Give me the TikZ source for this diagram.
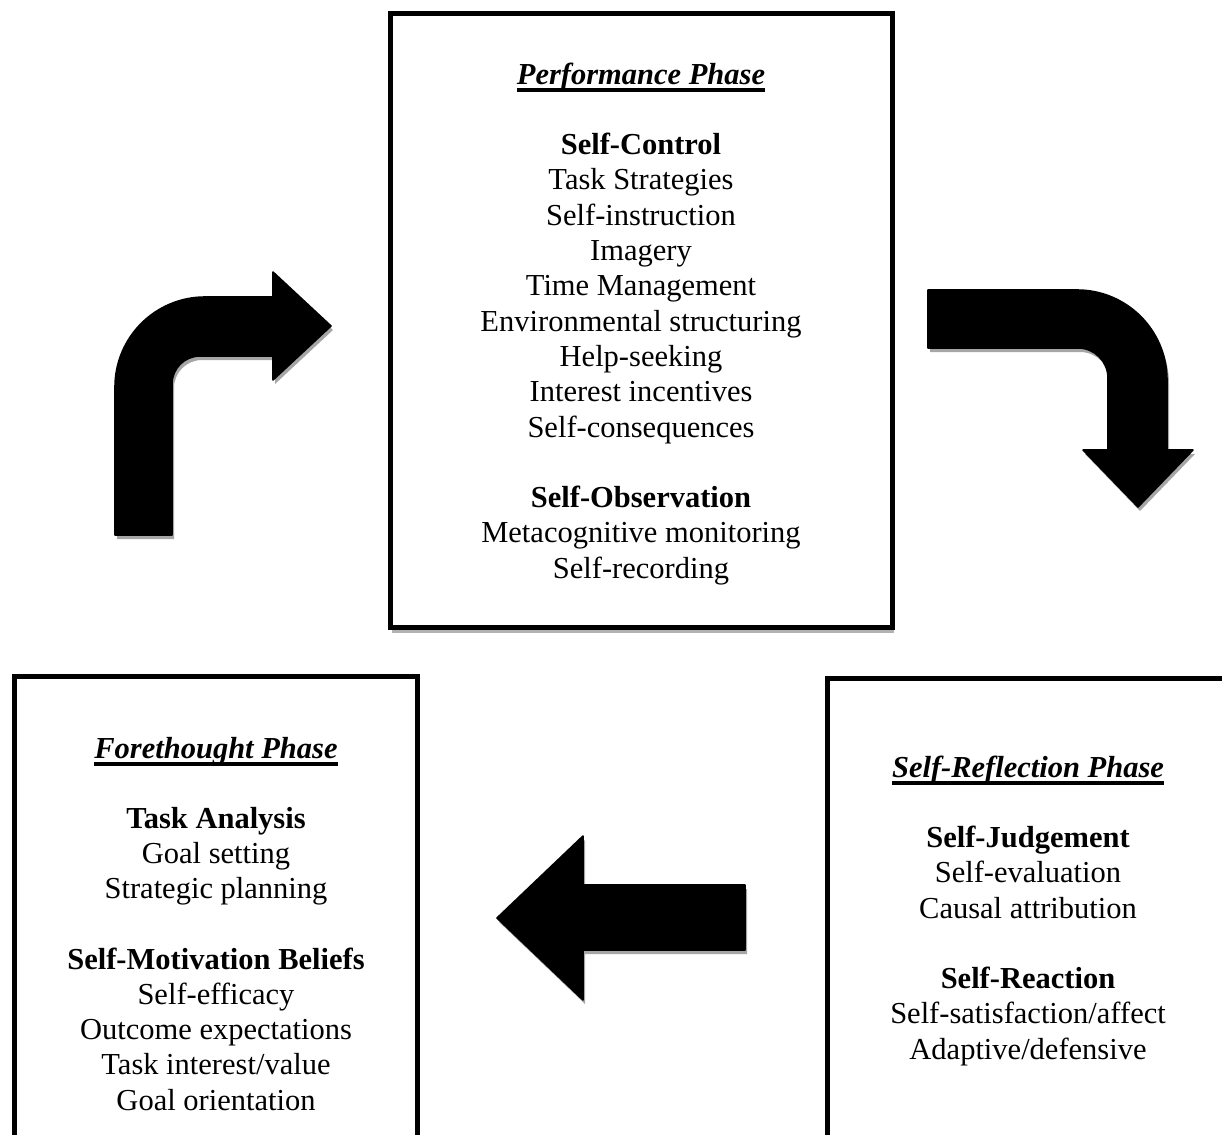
\documentclass[tikz,border=0pt]{standalone}
\usepackage{fontspec}
\setmainfont{Liberation Serif}
\usetikzlibrary{shadows}
\newsavebox\titlebox
% bold italic heading with a heavy underline
\newcommand\phasetitle[1]{\sbox\titlebox{\bfseries\itshape #1}\rlap{\rule[-4pt]{\wd\titlebox}{2pt}}\usebox\titlebox}
\begin{document}
\begin{tikzpicture}[x=0.5pt,y=-0.5pt,
  txtline/.style={font=\fontsize{15.25}{17.6}\selectfont, anchor=base, inner sep=0pt},
  phasebox/.style={draw=black, line width=2.5pt, fill=white,
    drop shadow={shadow xshift=1pt, shadow yshift=-3pt, opacity=0.3, fill=black}},
  bentarrow/.style={fill=black, draw=black, line width=0.8pt, line join=round,
    drop shadow={shadow xshift=1pt, shadow yshift=-2pt, opacity=0.35, fill=black}}]
\useasboundingbox (0,0) rectangle (1222,1135);
\clip (0,0) rectangle (1222,1135);
\fill[white] (0,0) rectangle (1222,1135);

% phase boxes
\draw[phasebox] (390,13) rectangle (892,627);
\draw[phasebox] (14,676) rectangle (417,1137);
\draw[phasebox] (827,678) rectangle (1232,1137);

% arrow turning up and to the right
\filldraw[bentarrow] (115,535) -- (115,387)
  .. controls (115,337.3) and (155.3,297) .. (205,297)
  -- (273,297) -- (273,272) -- (331,326) -- (273,380) -- (273,356) -- (200,356)
  .. controls (184.5,356) and (172,368.5) .. (172,384)
  -- (172,535) -- cycle;

% arrow turning right and down
\filldraw[bentarrow] (928,290) -- (1077,290)
  .. controls (1126.7,290) and (1167,330.3) .. (1167,380)
  -- (1167,450) -- (1193,450) -- (1138,507) -- (1083,450) -- (1108,450) -- (1108,378)
  .. controls (1108,361.4) and (1094.6,348) .. (1078,348)
  -- (928,348) -- cycle;

% straight arrow pointing left
\filldraw[bentarrow] (745,885) -- (583,885) -- (583,836) -- (497,918) -- (583,1000)
  -- (583,950) -- (745,950) -- cycle;

% Performance Phase
\foreach \i/\t in {0/{\phasetitle{Performance Phase}}, 2/{\textbf{Self-Control}},
  3/{Task Strategies}, 4/{Self-instruction}, 5/{Imagery}, 6/{Time Management},
  7/{Environmental structuring}, 8/{Help-seeking}, 9/{Interest incentives},
  10/{Self-consequences}, 12/{\textbf{Self-Observation}},
  13/{Metacognitive monitoring}, 14/{Self-recording}}
  \node[txtline] (perf\i) at (641,84+35.3*\i) {\t};

% Forethought Phase
\foreach \i/\t in {0/{\phasetitle{Forethought Phase}}, 2/{\textbf{Task Analysis}},
  3/{Goal setting}, 4/{Strategic planning}, 6/{\textbf{Self-Motivation Beliefs}},
  7/{Self-efficacy}, 8/{Outcome expectations}, 9/{Task interest/value},
  10/{Goal orientation}}
  \node[txtline] (fore\i) at (216,758+35.2*\i) {\t};

% Self-Reflection Phase
\foreach \i/\t in {0/{\phasetitle{Self-Reflection Phase}}, 2/{\textbf{Self-Judgement}},
  3/{Self-evaluation}, 4/{Causal attribution}, 6/{\textbf{Self-Reaction}},
  7/{Self-satisfaction/affect}, 8/{Adaptive/defensive}}
  \node[txtline] (refl\i) at (1028,777+35.25*\i) {\t};
\end{tikzpicture}
\end{document}
